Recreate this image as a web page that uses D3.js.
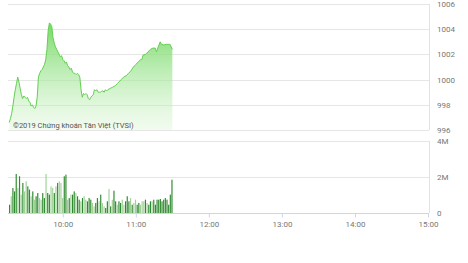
<!DOCTYPE html>
<html>
<head>
<meta charset="utf-8">
<script src="https://cdn.jsdelivr.net/npm/d3@7"></script>
<style>
  html, body { margin: 0; padding: 0; background: #fff; }
  svg { display: block; font-family: Roboto, "Noto Sans", sans-serif; }
</style>
</head>
<body>
<script>
(function () {
  'use strict'

  // index price by time of day
  var priceTimes = ['09:16', '09:17', '09:18', '09:19', '09:20', '09:21', '09:22', '09:23',
    '09:24', '09:25', '09:26', '09:27', '09:28', '09:29', '09:30', '09:31', '09:32', '09:33',
    '09:34', '09:35', '09:36', '09:37', '09:38', '09:39', '09:40', '09:41', '09:42', '09:43',
    '09:44', '09:45', '09:46', '09:47', '09:48', '09:49', '09:50', '09:51', '09:52', '09:53',
    '09:54', '09:55', '09:56', '09:57', '09:58', '09:59', '10:00', '10:01', '10:02', '10:03',
    '10:04', '10:05', '10:06', '10:07', '10:08', '10:09', '10:10', '10:11', '10:12', '10:13',
    '10:14', '10:15', '10:16', '10:17', '10:18', '10:19', '10:20', '10:21', '10:22', '10:23',
    '10:24', '10:25', '10:26', '10:27', '10:28', '10:29', '10:30', '10:31', '10:32', '10:33',
    '10:34', '10:35', '10:36', '10:37', '10:39', '10:41', '10:43', '10:45', '10:46', '10:48',
    '10:50', '10:52', '10:54', '10:56', '10:58', '11:00', '11:02', '11:04', '11:05', '11:06',
    '11:08', '11:09', '11:11', '11:12', '11:14', '11:16', '11:17', '11:18', '11:20', '11:21',
    '11:23', '11:25', '11:27', '11:28', '11:29', '11:30']
  var prices = [996.6, 996.9, 997.3, 997.9, 998.6, 999.2, 999.7, 1000.2,
    999.8, 999.3, 998.8, 998.5, 998.7, 998.6, 998.5, 998.6, 998.3, 998.2,
    997.9, 998.0, 997.8, 997.7, 997.9, 998.6, 1000.2, 1000.5, 1000.7, 1000.8,
    1001.0, 1001.2, 1001.6, 1002.4, 1003.9, 1004.5, 1004.4, 1004.2, 1003.3, 1002.9,
    1002.6, 1002.4, 1002.2, 1002.0, 1001.8, 1001.9, 1001.6, 1001.5, 1001.3, 1001.4,
    1001.1, 1001.0, 1000.8, 1000.9, 1000.6, 1000.5, 1000.5, 1000.4, 1000.5, 1000.4,
    1000.2, 999.2, 998.6, 998.9, 998.8, 998.9, 998.8, 998.5, 998.4, 998.6,
    998.7, 998.8, 999.2, 999.1, 999.2, 999.0, 999.0, 999.0, 999.1, 999.1,
    999.0, 999.2, 999.1, 999.2, 999.3, 999.4, 999.5, 999.7, 999.8, 1000.0,
    1000.2, 1000.3, 1000.5, 1000.7, 1001.0, 1001.2, 1001.4, 1001.6, 1001.6, 1001.95,
    1002.0, 1002.1, 1002.3, 1002.4, 1002.5, 1002.5, 1002.2, 1002.5, 1003.0, 1002.8,
    1002.75, 1002.8, 1002.8, 1002.8, 1002.6, 1002.4]

  // volume per bar (millions), first bar 09:16, last 11:30
  var volumes = [0.46, 0.93, 1.39, 1.2, 2.17, 1.39, 2.04, 1.02, 1.67, 1.2, 1.76, 1.48, 1.3,
    0.93, 1.2, 0.74, 0.93, 1.11, 0.83, 0.74, 1.11, 0.83, 2.17, 1.11, 1.02, 1.48, 1.39, 1.11,
    1.48, 1.67, 1.76, 1.67, 0.83, 2.04, 2.13, 0.74, 0.83, 1.02, 1.02, 1.2, 1.11, 0.93, 0.74,
    0.65, 0.83, 0.93, 0.74, 0.65, 0.83, 0.74, 0.56, 0.37, 0.56, 0.83, 0.65, 1.02, 0.56, 0.37,
    0.28, 0.65, 1.33, 0.37, 0.74, 1.24, 0.65, 0.46, 0.65, 0.56, 0.74, 0.46, 0.65, 0.93, 0.65,
    0.83, 0.46, 0.56, 0.74, 0.46, 0.56, 0.46, 0.65, 0.65, 0.74, 0.56, 0.46, 0.65, 0.65, 0.74,
    0.46, 0.74, 0.74, 0.78, 0.65, 0.74, 0.83, 0.74, 0.46, 1.02, 1.85]
  // d = dark bar, l = light bar
  var volumeTone = 'dldddldldllddldlddllddlddlldldlllddldlddlddldlldddllddldllddldldd' +
    'lddlldddldllddllldlddld'

  var priceTicks = [996, 998, 1000, 1002, 1004, 1006]
  var volumeTicks = [0, 2, 4]
  var timeTicks = ['10:00', '11:00', '12:00', '13:00', '14:00', '15:00']

  var w = 468
  var h = 263

  var parse = d3.timeParse('%H:%M')

  var x = d3.scaleTime()
    .domain([parse('09:15'), parse('15:00')])
    .range([8, 428])
  var yPrice = d3.scaleLinear()
    .domain([996, 1006])
    .range([130, 4])
  var yVol = d3.scaleLinear()
    .domain([0, 4])
    .range([213, 141])
  var band = d3.scaleBand()
    .domain(d3.range(volumes.length))
    .range([x(parse('09:16')) - 0.7, x(parse('11:30')) + 0.7])
    .padding(0.3)

  var s = d3.select('body').append('svg')
    .attr('width', w)
    .attr('height', h)

  // gradient for the price area
  var grad = s.append('defs').append('linearGradient')
    .attr('id', 'area-fill')
    .attr('x1', 0).attr('y1', 0).attr('x2', 0).attr('y2', 1)
  grad.append('stop').attr('offset', '0%').attr('stop-color', '#6fd85e').attr('stop-opacity', 0.95)
  grad.append('stop').attr('offset', '100%').attr('stop-color', '#d9f5d3').attr('stop-opacity', 0.35)

  // price grid
  s.append('g').selectAll('line')
    .data(priceTicks)
    .enter().append('line')
      .attr('x1', 8).attr('x2', 429)
      .attr('y1', function (d) { return Math.round(yPrice(d)) + 0.5 })
      .attr('y2', function (d) { return Math.round(yPrice(d)) + 0.5 })
      .attr('stroke', '#e6e6e6')

  // volume grid
  s.append('g').selectAll('line')
    .data(volumeTicks)
    .enter().append('line')
      .attr('x1', 8).attr('x2', 429)
      .attr('y1', function (d) { return Math.round(yVol(d)) + 0.5 })
      .attr('y2', function (d) { return Math.round(yVol(d)) + 0.5 })
      .attr('stroke', function (d) { return d === 0 ? '#ccd6eb' : '#e6e6e6' })

  // right borders
  s.append('line')
    .attr('x1', 429.5).attr('x2', 429.5)
    .attr('y1', yPrice(1006)).attr('y2', yPrice(996))
    .attr('stroke', '#dde3ee')
  s.append('line')
    .attr('x1', 429.5).attr('x2', 429.5)
    .attr('y1', yVol(4)).attr('y2', yVol(0))
    .attr('stroke', '#dde3ee')

  var pts = priceTimes.map(function (t, i) { return { t: parse(t), v: prices[i] } })

  var area = d3.area()
    .x(function (d) { return x(d.t) })
    .y0(yPrice(996))
    .y1(function (d) { return yPrice(d.v) })
  var line = d3.line()
    .x(function (d) { return x(d.t) })
    .y(function (d) { return yPrice(d.v) })

  s.append('path')
    .datum(pts)
    .attr('d', area)
    .attr('fill', 'url(#area-fill)')
  s.append('path')
    .datum(pts)
    .attr('d', line)
    .attr('fill', 'none')
    .attr('stroke', '#64cf53')
    .attr('stroke-width', 1)

  // watermark
  s.append('text')
    .attr('x', 13)
    .attr('y', 128)
    .attr('font-size', 7.5)
    .attr('fill', '#555')
    .text('©2019 Chứng khoán Tân Việt (TVSI)')

  // volume bars
  s.append('g').selectAll('rect')
    .data(volumes)
    .enter().append('rect')
      .attr('x', function (d, i) { return band(i) })
      .attr('width', band.bandwidth())
      .attr('y', function (d) { return yVol(d) })
      .attr('height', function (d) { return yVol(0) - yVol(d) })
      .attr('fill', function (d, i) {
        return volumeTone[i] === 'l' ? '#9fd196' : '#2f8a2f'
      })

  // price axis labels
  s.append('g').selectAll('text')
    .data(priceTicks)
    .enter().append('text')
      .attr('x', 437)
      .attr('y', function (d) { return yPrice(d) + 3 })
      .attr('font-size', 8)
      .attr('fill', '#777')
      .text(function (d) { return d })

  // volume axis labels
  s.append('g').selectAll('text')
    .data(volumeTicks)
    .enter().append('text')
      .attr('x', 437)
      .attr('y', function (d) { return yVol(d) + 3 })
      .attr('font-size', 8)
      .attr('fill', '#777')
      .text(function (d) { return d === 0 ? '0' : d + 'M' })

  // time axis
  var xAxis = d3.axisBottom(x)
    .tickValues(timeTicks.map(parse))
    .tickSize(4)
    .tickFormat(d3.timeFormat('%H:%M'))
  var gx = s.append('g')
    .attr('transform', 'translate(0,' + (yVol(0) + 0.5) + ')')
    .call(xAxis)
  gx.select('.domain').remove()
  gx.selectAll('.tick line').attr('stroke', '#ccd6eb')
  gx.selectAll('.tick text')
    .attr('font-family', 'Roboto, sans-serif')
    .attr('font-size', 8)
    .attr('fill', '#777')
    .attr('dy', '0.75em')
}())
</script>
</body>
</html>
